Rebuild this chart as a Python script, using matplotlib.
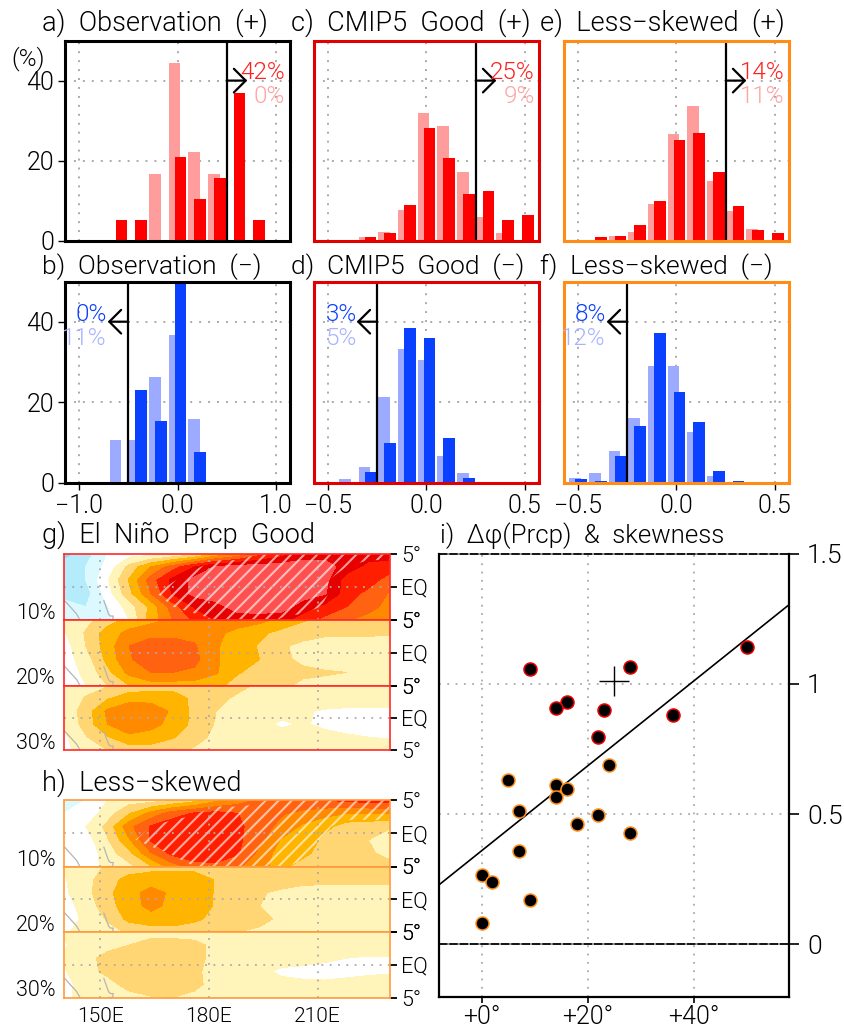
import numpy as np
import matplotlib
matplotlib.use('Agg')
import matplotlib.pyplot as plt
from matplotlib.patches import PathPatch

plt.rcParams['font.family'] = ['Roboto', 'DejaVu Sans']
plt.rcParams['font.weight'] = 300

W, H = 845, 1029

# histogram data (%)
bins_a = [-0.6, -0.4, -0.2, 0.0, 0.2, 0.4, 0.6, 0.8]
obs_pos_dark = [5.3, 5.3, 0, 21, 10.5, 15.8, 36.8, 5.3]
obs_pos_light = [0, 0, 16.7, 44.4, 22.2, 16.7, 0, 0]
obs_neg_dark = [0, 23, 15.4, 54, 7.7, 0, 0, 0]
obs_neg_light = [10.5, 10.5, 26.3, 36.8, 15.8, 0, 0, 0]

bins_m = [-0.5, -0.4, -0.3, -0.2, -0.1, 0.0, 0.1, 0.2, 0.3, 0.4, 0.5]
good_pos_dark = [0, 0, 1.1, 1.9, 9, 28.2, 20.8, 11.7, 12.4, 5.3, 6.6]
good_pos_light = [0, 0, 1, 2.2, 7.8, 31.8, 28.7, 17.2, 5.9, 1.9, 0.2]
good_neg_dark = [0, 0, 2.6, 9.9, 38.4, 36, 11, 1.2, 0, 0, 0]
good_neg_light = [0, 0.9, 3.8, 21.2, 33.3, 30.5, 6.7, 2.4, 0, 0, 0]
less_pos_dark = [0, 0.9, 1.25, 4.1, 10, 25.2, 27, 17.1, 8.7, 2.7, 2.1]
less_pos_light = [0, 0.2, 1.3, 2.2, 9.3, 26.7, 33.6, 14.9, 7.5, 2.9, 0.1]
less_neg_dark = [0.8, 0.4, 6.6, 14, 37.3, 22.6, 15, 2.9, 0.3, 0.1, 0]
less_neg_light = [1, 2.4, 7.9, 16, 29, 29, 12.5, 1.5, 0.2, 0.2, 0]

# scatter data
red_x = [9, 28, 50, 16, 14, 23, 36, 22]
red_y = [1.058, 1.065, 1.14, 0.931, 0.909, 0.90, 0.88, 0.797]
org_x = [24, 5, 14, 16, 14, 7, 22, 18, 28, 7, 0, 2, 9, 0]
org_y = [0.69, 0.629, 0.611, 0.598, 0.564, 0.513, 0.496, 0.462, 0.427, 0.359, 0.266, 0.24, 0.17, 0.081]
fit_x = [-8, 57.8]
fit_y = [0.23, 1.30]
cross_x = [25]
cross_y = [1.01]

# map data, values are colour classes read from the shading
lons = [140, 146, 152, 158, 164, 170, 176, 182, 188, 194, 200, 206, 212, 218, 224, 230]
lats = [5, 3, 1, -1, -3, -5]

g_top = [[-3, -2, -0.5, 0, 0, 0.3, 1, 2.5, 3.5, 5, 6, 7, 7, 7, 7, 7],
         [-2, -1.5, -0.2, 1.8, 3.5, 5, 6.5, 7.6, 8, 8, 8, 8, 8, 7, 6.2, 6],
         [-2, -1.5, 0.4, 2.6, 5, 6.8, 7.8, 8, 8, 8, 8, 8, 7.8, 6, 6, 5],
         [-2, -2, 0, 2.2, 4.5, 6.6, 7.8, 8, 8, 8, 8, 8, 7.6, 6, 5.2, 4.4],
         [-1, -1.5, -0.6, 1, 2.8, 5, 6.6, 7.2, 7.9, 8, 8, 7, 6.2, 5.5, 5, 4],
         [-0.5, -1, -0.8, 0.5, 3, 4.5, 5.7, 6.5, 7, 7, 6.8, 6, 5.2, 4.6, 4, 4]]
g_mid = [[0.7, 1.2, 2, 2.8, 3.2, 3.6, 4, 4, 4, 3.8, 3.2, 2.6, 2.2, 2, 2, 1.8],
         [0.4, 1.6, 3, 3.8, 4.2, 4.2, 4.2, 3.7, 3.2, 2.7, 2.2, 1.8, 1.7, 1.7, 1.7, 1.7],
         [0, 1.5, 3, 4.5, 5, 5, 4.6, 3.6, 3, 2.4, 1.6, 1.3, 1, 1, 0.9, 0.4],
         [0, 1, 2.8, 4.4, 5, 5, 4.8, 3.6, 3, 2.5, 1.6, 1.4, 1, 1, 1, 1],
         [0, 0.7, 2.2, 3.8, 4.5, 4.5, 4.3, 3.6, 2.6, 2, 1.8, 1.6, 1.6, 1.5, 1.1, 1],
         [0, 0.5, 1.5, 2.5, 3, 3, 3, 2.8, 2, 1.7, 1.6, 1.4, 1.2, 1.2, 1.1, 1]]
g_low = [[1, 1, 1.4, 1.9, 2, 2, 2, 2, 1.8, 1.3, 1.2, 1.1, 1, 1, 1, 1],
         [0.7, 1.6, 2.4, 3, 3.1, 3.1, 2.2, 1.8, 1.3, 1, 1, 1, 1, 1, 1, 0.9],
         [0.7, 2, 3.7, 4.5, 4.2, 3.3, 2.2, 1.5, 1, 1, 0.9, 0.6, 0.4, 0.3, 0.3, 0.3],
         [0.6, 1.9, 3.5, 4.4, 3.8, 3.2, 2.2, 1.4, 1, 0.9, 0.3, 0.6, 0.3, 0.2, 0.2, 0.2],
         [0.3, 1.4, 2.4, 3.2, 3.1, 2.6, 1.8, 1.3, 1, 1, 1, 1, 0.8, 0.6, 0.5, 0.4],
         [0.2, 1, 1.5, 2, 2, 1.7, 1.4, 1.1, 1, 1, 1, 1, 1, 1, 1, 1]]
h_top = [[-0.8, -0.5, 0.5, 1, 1, 1.4, 2, 3.2, 4, 4.6, 5, 5.4, 5.6, 5.7, 6, 6],
         [-0.5, -0.2, 1, 2.4, 3.8, 5, 5.6, 5.8, 5.5, 5, 4.6, 4.2, 3.8, 3.5, 3.5, 3.6],
         [0, 0.5, 1.8, 4.2, 5.6, 6.2, 6.3, 6.3, 5.7, 5, 4.2, 3.3, 2.8, 2, 1.8, 1.6],
         [0.5, 0, 1.4, 3.4, 5.6, 6.2, 6.4, 6.3, 5.7, 4.8, 3.4, 3.2, 2.2, 2, 1.5, 1],
         [0.5, -0.2, 1, 2.2, 4.4, 5.8, 6.3, 6.3, 5.6, 4.2, 3, 2.8, 2, 2, 1.6, 1.3],
         [0.5, 0, 0.8, 1.2, 2.4, 4, 5, 5.2, 4.6, 4, 2.8, 2, 2, 1.7, 1.5, 1.7]]
h_mid = [[0.6, 1.1, 1.6, 1.8, 2, 2, 2, 2, 2, 2, 2, 2, 2, 2, 2, 2],
         [0.4, 1.2, 2, 2.9, 3.2, 3.2, 3.2, 2.4, 2.2, 2, 2, 1.9, 1.8, 1.8, 1.8, 1.8],
         [0.3, 1.2, 2.2, 3.3, 3.7, 3.4, 3.1, 2.4, 2, 1.6, 1.3, 1, 1, 1, 1, 0.9],
         [0, 1, 2, 3.2, 3.7, 3.3, 3, 2.4, 2, 1.5, 1.2, 1.2, 1, 0.9, 0.9, 0.9],
         [0, 0.7, 1.6, 2.8, 3.2, 3.2, 2.7, 2.2, 2, 1.8, 1.3, 1.3, 1.2, 1.2, 1.1, 1],
         [0.3, 1, 1.2, 1.6, 1.8, 1.9, 1.9, 1.8, 1.5, 1.3, 1.2, 1.2, 1.2, 1.2, 1.2, 1.2]]
h_low = [[0.6, 0.9, 1, 1, 1, 1, 1, 1, 1, 1, 1, 1, 1, 1, 1, 1],
         [0.4, 1, 1.2, 1.5, 2, 2, 1.8, 1.2, 1, 1, 1, 1, 1, 1, 1, 1],
         [0.6, 1.2, 1.8, 2.4, 2.4, 2.3, 1.8, 1.2, 1, 1, 1, 0.9, 0.7, 0.5, 0.4, 0.4],
         [0.4, 1.2, 1.7, 2.3, 2.4, 2.3, 1.7, 1.1, 1, 0.8, 0.3, 0.2, 0.1, 0.2, 0.3, 0.4],
         [0.2, 0.9, 1.2, 1.8, 2.3, 2.2, 1.7, 1.2, 1, 1, 0.8, 0.7, 0.7, 0.8, 0.9, 0.9],
         [0.2, 1, 1, 1.2, 1.4, 1.5, 1.3, 1.1, 1, 1, 1, 1, 1, 1, 1, 1]]
# significant area (hatched)
g_sig = [[0, 0, 0, 0, 0, 0, 0, 0, 0, 0.5, 1, 1, 1, 1, 1, 1],
         [0, 0, 0, 0, 0, 0, 0.3, 1, 1, 1, 1, 1, 1, 0.5, 0, 0],
         [0, 0, 0, 0, 0, 0.4, 1, 1, 1, 1, 1, 1, 0.6, 0, 0, 0],
         [0, 0, 0, 0, 0.3, 1, 1, 1, 1, 1, 1, 1, 0.6, 0, 0, 0],
         [0, 0, 0, 0, 0, 0.5, 1, 1, 1, 1, 1, 1, 0.4, 0, 0, 0],
         [0, 0, 0, 0, 0, 0, 0, 0.5, 1, 1, 0.4, 0, 0, 0, 0, 0]]
h_sig = [[0, 0, 0, 0, 0, 0, 0, 0, 0, 0.3, 1, 1, 1, 1, 1, 1],
         [0, 0, 0, 0, 0, 0, 0.4, 1, 1, 1, 1, 1, 1, 1, 1, 1],
         [0, 0, 0, 0, 0.5, 1, 1, 1, 1, 1, 1, 1, 0.7, 0, 0, 0],
         [0, 0, 0, 0.3, 1, 1, 1, 1, 1, 1, 1, 1, 0.4, 0, 0, 0],
         [0, 0, 0, 0, 0, 0.6, 1, 1, 1, 1, 1, 1, 0, 0, 0, 0],
         [0, 0, 0, 0, 0, 0, 0.5, 1, 1, 1, 0.7, 0, 0, 0, 0, 0]]
coast1_lon = [140.2, 143.5, 144.4]
coast1_lat = [-2.1, -4.1, -5]
coast2_lon = [151, 152.3, 152.8, 153.6, 153.4, 152.4]
coast2_lat = [-2.1, -4.1, -4.4, -4.4, -5, -5]

map_levels = [-3.5, -2.5, -1.5, -0.5, 0.5, 1.5, 2.5, 3.5, 4.5, 5.5, 6.5, 7.5, 8.5]
map_colors = ['#92d9f7', '#b4ecfb', '#dcf9ff', '#ffffff', '#fff5ba', '#ffd673',
              '#ffb400', '#ff8a00', '#ff6210', '#ff1e00', '#e60000', '#ff5050']

GRID = '#aaaaaa'
RED, RED_L = '#ff0000', '#ff9c9c'
BLUE, BLUE_L = '#0a40ff', '#9cabff'
PINK_T, BLUE_T = '#ffa3a3', '#a8b2ff'
DOT = (0, (1, 3.6))

fig = plt.figure(figsize=(W / 100, H / 100), dpi=100)


def make_ax(x0, y0, x1, y1):
    return fig.add_axes([x0 / W, 1 - y1 / H, (x1 - x0) / W, (y1 - y0) / H])


def ptext(x, y, s, size=17, color='black', ha='left', va='baseline', **kw):
    fig.text(x / W, 1 - y / H, s, fontsize=size, color=color, ha=ha, va=va, **kw)


def hist_panel(box, bins, dark, light, step, off, xlim, xticks, thr, arrow, frame,
               c_dark, c_light, left=False, bottom=False, xlabels=None):
    ax = make_ax(*box)
    ax.set_xlim(-xlim, xlim)
    ax.set_ylim(0, 50)
    bins = np.array(bins)
    ax.bar(bins - off, light, width=step * 0.6, color=c_light, zorder=2)
    ax.bar(bins + off, dark, width=step * 0.6, color=c_dark, zorder=3)
    for t in xticks:
        ax.axvline(t, color=GRID, lw=1.4, ls=DOT, zorder=1)
    for t in [20, 40]:
        ax.axhline(t, color=GRID, lw=1.4, ls=DOT, zorder=1)
    ax.axvline(thr, color='black', lw=1.6, zorder=4)
    ax.annotate('', xy=(thr + arrow, 40), xytext=(thr, 40), zorder=5,
                arrowprops=dict(arrowstyle='->,head_length=8.5,head_width=8.5',
                                mutation_scale=1, lw=1.6, color='black',
                                shrinkA=0, shrinkB=0))
    for s in ax.spines.values():
        s.set_color(frame)
        s.set_linewidth(2.2)
        s.set_zorder(6)
    ax.set_yticks([0, 20, 40] if left else [])
    ax.set_xticks(xticks if bottom else [])
    if bottom:
        ax.set_xticklabels(xlabels)
    ax.tick_params(length=5, width=1, labelsize=18, pad=3)
    return ax


top1, bot1 = 40.5, 241
top2, bot2 = 281.5, 482.5
col_a, col_c, col_e = (65, 290), (314, 539), (564, 789)

hist_panel((col_a[0], top1, col_a[1], bot1), bins_a, obs_pos_dark, obs_pos_light, 0.2, 0.03,
           1.145, [-1, 0, 1], 0.5, 0.21, 'black', RED, RED_L, left=True)
hist_panel((col_a[0], top2, col_a[1], bot2), bins_a, obs_neg_dark, obs_neg_light, 0.2, 0.03,
           1.145, [-1, 0, 1], -0.5, -0.21, 'black', BLUE, BLUE_L, left=True, bottom=True,
           xlabels=['\u22121.0', '0.0', '1.0'])
hist_panel((col_c[0], top1, col_c[1], bot1), bins_m, good_pos_dark, good_pos_light, 0.1, 0.015,
           0.572, [-0.5, 0, 0.5], 0.25, 0.105, '#e00000', RED, RED_L)
hist_panel((col_c[0], top2, col_c[1], bot2), bins_m, good_neg_dark, good_neg_light, 0.1, 0.015,
           0.572, [-0.5, 0, 0.5], -0.25, -0.105, '#e00000', BLUE, BLUE_L, bottom=True,
           xlabels=['\u22120.5', '0.0', '0.5'])
hist_panel((col_e[0], top1, col_e[1], bot1), bins_m, less_pos_dark, less_pos_light, 0.1, 0.015,
           0.572, [-0.5, 0, 0.5], 0.25, 0.105, '#ff8c14', RED, RED_L)
hist_panel((col_e[0], top2, col_e[1], bot2), bins_m, less_neg_dark, less_neg_light, 0.1, 0.015,
           0.572, [-0.5, 0, 0.5], -0.25, -0.105, '#ff8c14', BLUE, BLUE_L, bottom=True,
           xlabels=['\u22120.5', '0.0', '0.5'])

# percentages
ptext(285, 79, '42%', 17.5, '#ff2020', ha='right', zorder=10)
ptext(285, 102.7, '0%', 17.5, PINK_T, ha='right', zorder=10)
ptext(535, 79, '25%', 17.5, '#ff2020', ha='right', zorder=10)
ptext(535, 102.7, '9%', 17.5, PINK_T, ha='right', zorder=10)
ptext(785, 79, '14%', 17.5, '#ff2020', ha='right', zorder=10)
ptext(785, 102.7, '11%', 17.5, PINK_T, ha='right', zorder=10)
ptext(107, 320.7, '0%', 17.5, BLUE, ha='right', zorder=10)
ptext(107, 345, '11%', 17.5, BLUE_T, ha='right', zorder=10)
ptext(357, 320.7, '3%', 17.5, BLUE, ha='right', zorder=10)
ptext(357, 345, '5%', 17.5, BLUE_T, ha='right', zorder=10)
ptext(606, 320.7, '8%', 17.5, BLUE, ha='right', zorder=10)
ptext(606, 345, '12%', 17.5, BLUE_T, ha='right', zorder=10)
ptext(11, 65, '(%)', 17.5)

# titles
ptext(42, 31, 'a)  Observation  (+)', 19.5)
ptext(291, 31, 'c)  CMIP5  Good  (+)', 19.5)
ptext(540, 31, 'e)  Less\u2212skewed  (+)', 19.5)
ptext(42, 274, 'b)  Observation  (\u2212)', 19)
ptext(291, 274, 'd)  CMIP5  Good  (\u2212)', 19)
ptext(540, 274, 'f)  Less\u2212skewed  (\u2212)', 19)
ptext(42, 543, 'g)  El  Niño  Prcp  Good', 19.5)
ptext(42, 791, 'h)  Less\u2212skewed', 19.5)
ptext(440, 543, 'i)  \u0394\u03c6(Prcp)  &  skewness', 18.5)


def map_strip(box, field, frame, pct, sig=None, bottom=False):
    ax = make_ax(*box)
    ax.contourf(lons, lats, field, levels=map_levels, colors=map_colors, zorder=1)
    if sig is not None:
        cs = ax.contourf(lons, lats, sig, levels=[0.5, 1.5], colors='none', zorder=2)
        clip = PathPatch(cs.get_paths()[0], transform=ax.transData, fc='none', ec='none')
        ax.add_patch(clip)
        for c in np.arange(120, 240, 3.6):
            ln, = ax.plot([c, c + 18.2], [-5, 5], color='white', lw=1.5, alpha=0.62, zorder=3)
            ln.set_clip_path(clip)
    ax.plot(coast1_lon, coast1_lat, color='#b5b5b5', lw=0.9, zorder=4)
    ax.plot(coast2_lon, coast2_lat, color='#b5b5b5', lw=0.9, zorder=4)
    for t in [150, 180, 210]:
        ax.axvline(t, color=GRID, lw=1.3, ls=DOT, zorder=4)
    ax.axhline(0, color=GRID, lw=1.3, ls=DOT, zorder=4)
    ax.set_xlim(140, 230)
    ax.set_ylim(-5, 5)
    ax.yaxis.tick_right()
    ax.set_yticks([-5, 0, 5])
    ax.set_yticklabels(['5°', 'EQ', '5°'])
    ax.set_xticks([150, 180, 210] if bottom else [])
    if bottom:
        ax.set_xticklabels(['150E', '180E', '210E'])
        ax.tick_params(axis='x', length=0, labelsize=15, pad=7)
    ax.tick_params(axis='y', length=5, width=1.3, labelsize=15.5, pad=3)
    for s in ax.spines.values():
        s.set_color(frame)
        s.set_linewidth(1.2)
        s.set_zorder(6)
    ptext(56, box[3] - 1, pct, 15.5, ha='right')


map_strip((64, 553.5, 390, 620), g_top, '#ff2a2a', '10%', sig=g_sig)
map_strip((64, 620, 390, 685.5), g_mid, '#ff2a2a', '20%')
map_strip((64, 685.5, 390, 750), g_low, '#ff2a2a', '30%')
map_strip((64, 800, 390, 866.5), h_top, '#ff9a3c', '10%', sig=h_sig)
map_strip((64, 866.5, 390, 932), h_mid, '#ff9a3c', '20%')
map_strip((64, 932, 390, 997.5), h_low, '#ff9a3c', '30%', bottom=True)

# scatter panel
ax = make_ax(439.5, 553.5, 789, 996.5)
ax.set_xlim(-8, 58)
ax.set_ylim(-0.2, 1.5)
for t in [0, 20, 40]:
    ax.axvline(t, color=GRID, lw=1.3, ls=DOT, zorder=1)
for t in [0.5, 1]:
    ax.axhline(t, color=GRID, lw=1.3, ls=DOT, zorder=1)
ax.axhline(0, color='#888888', lw=1.2, zorder=1)
ax.axhline(0, color='black', lw=1.2, ls=(0, (5, 1.2)), zorder=2)
ax.axhline(1.5, color='#888888', lw=1.2, zorder=1, clip_on=False)
ax.axhline(1.5, color='black', lw=1.2, ls=(0, (5, 1.2)), zorder=2, clip_on=False)
ax.plot(fit_x, fit_y, color='black', lw=1.2, zorder=2)
ax.scatter(red_x, red_y, s=88, c='black', edgecolors='#f00000', linewidths=1.1, zorder=3)
ax.scatter(org_x, org_y, s=88, c='black', edgecolors='#ff9020', linewidths=1.1, zorder=3)
ax.plot(cross_x, cross_y, marker='+', ms=22, mew=1.0, color='black', ls='none', zorder=4)
ax.yaxis.tick_right()
ax.set_yticks([0, 0.5, 1, 1.5])
ax.set_yticklabels(['0', '0.5', '1', '1.5'])
ax.set_xticks([0, 20, 40])
ax.set_xticklabels(['+0°', '+20°', '+40°'])
ax.tick_params(axis='y', length=7, width=1.2, labelsize=19, pad=6)
ax.tick_params(axis='x', length=4, width=1.2, labelsize=18, pad=2)
ax.spines['top'].set_visible(False)
for k in ['left', 'right', 'bottom']:
    ax.spines[k].set_linewidth(1.6)

fig.savefig('out.png', dpi=100)
